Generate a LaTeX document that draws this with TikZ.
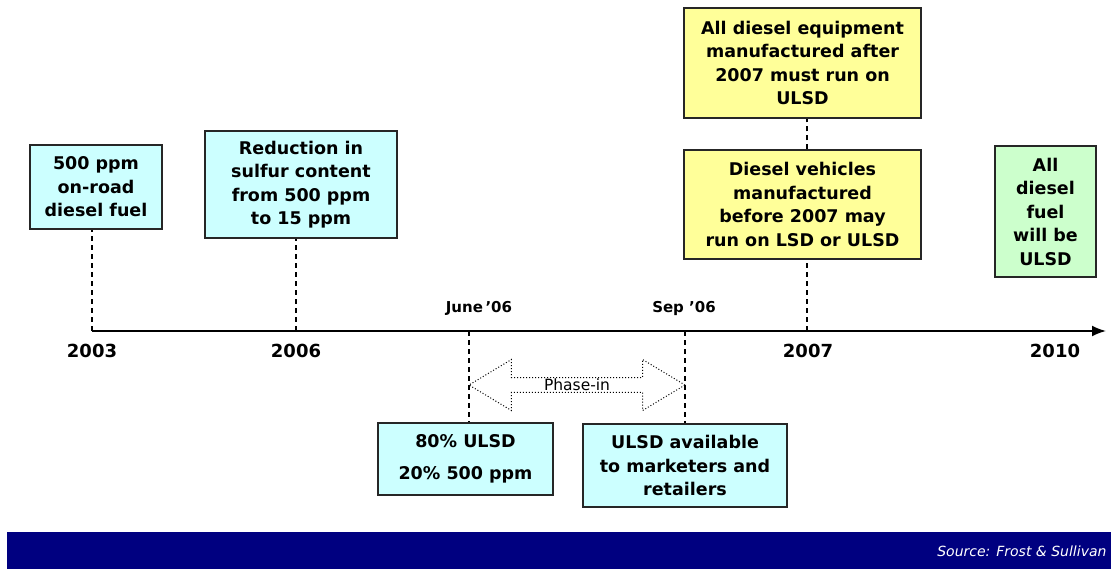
\documentclass[tikz,border=0pt]{standalone}
\usepackage{fontspec}
\setmainfont{DejaVu Sans}
\usetikzlibrary{arrows.meta,calc,positioning,shapes.arrows}
\definecolor{boxcyan}{HTML}{CCFFFF}
\definecolor{boxyellow}{HTML}{FFFF99}
\definecolor{boxgreen}{HTML}{CCFFCC}
\definecolor{barnavy}{HTML}{000080}
\begin{document}
\begin{tikzpicture}[x=1pt,y=-1pt,
  box/.style={draw=black!85,line width=1.2pt,align=center,inner sep=2pt,
    font=\bfseries\fontsize{17.5}{23.5}\selectfont},
  year/.style={font=\bfseries\fontsize{18}{20}\selectfont},
  month/.style={font=\bfseries\fontsize{15}{17}\selectfont},
  guide/.style={line width=1.2pt,dash pattern=on 5pt off 4pt}]
\useasboundingbox (0,0) rectangle (1111,569);
% timeline
\coordinate (t03) at (92,331);
\coordinate (t06) at (296,331);
\coordinate (tjun) at (469,331);
\coordinate (tsep) at (685,331);
\coordinate (t07) at (807,331);
\coordinate (tend) at (1106,331);
\draw[line width=1.8pt,-{Latex[length=14pt,width=11pt]}] (t03) -- (tend);
\node[year] (y03) at (92,351) {2003};
\node[year] (y06) at (296,351) {2006};
\node[year] (y07) at (808,351) {2007};
\node[year] (y10) at (1055,351) {2010};
\node[month] (mjun) at (479,308) {June\,’06};
\node[month] (msep) at (684,308) {Sep ’06};
% boxes
\node[box,fill=boxcyan,minimum width=132pt,minimum height=84pt] (b03) at (96,187)
  {500 ppm\\on-road\\diesel fuel};
\node[box,fill=boxcyan,minimum width=192pt,minimum height=107pt] (b06) at (301,184.5)
  {Reduction in\\sulfur content\\from 500 ppm\\to 15 ppm};
\node[box,fill=boxcyan,minimum width=175pt,minimum height=72pt] (bjun) at (465.5,459)
  {80\% ULSD\\[9pt]20\% 500 ppm};
\node[box,fill=boxcyan,minimum width=204pt,minimum height=83pt] (bsep) at (685,465.5)
  {ULSD available\\to marketers and\\retailers};
\node[box,fill=boxyellow,minimum width=237pt,minimum height=110pt] (b07a) at (802.5,63)
  {All diesel equipment\\manufactured after\\2007 must run on\\ULSD};
\node[box,fill=boxyellow,minimum width=237pt,minimum height=109pt] (b07b) at (802.5,204.5)
  {Diesel vehicles\\manufactured\\before 2007 may\\run on LSD or ULSD};
\node[box,fill=boxgreen,minimum width=101pt,minimum height=131pt] (b10) at (1045.5,211.5)
  {All\\diesel\\fuel\\will be\\ULSD};
% guides
\draw[guide] (t03) -- (t03 |- b03.south);
\draw[guide] (t06) -- (t06 |- b06.south);
\draw[guide] (tjun) -- (tjun |- bjun.north);
\draw[guide] (tsep) -- (tsep |- bsep.north);
\draw[guide] (t07) -- (t07 |- b07b.south);
\draw[guide] (b07b.north -| t07) -- (t07 |- b07a.south);
% phase-in
\node[double arrow,draw,dotted,line width=1pt,minimum height=216pt,
  double arrow head extend=18pt,double arrow tip angle=62,inner xsep=4pt,inner ysep=1pt,
  font=\fontsize{15.5}{17}\selectfont] (phase) at (577,385) {Phase-in};
% footer
\fill[barnavy] (7,532) rectangle (1111,569);
\node[anchor=east,text=white,font=\itshape\fontsize{14}{16}\selectfont] (src) at (1110,551)
  {Source: Frost \& Sullivan};
\end{tikzpicture}
\end{document}
